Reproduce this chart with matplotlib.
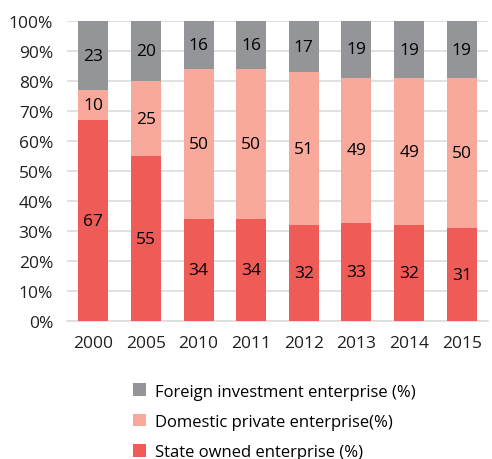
import numpy as np
import matplotlib.pyplot as plt
import matplotlib

matplotlib.rc("font", family=["Open Sans", "DejaVu Sans"])

# data
years = ["2000", "2005", "2010", "2011", "2012", "2013", "2014", "2015"]
state = [67, 55, 34, 34, 32, 33, 32, 31]
domestic = [10, 25, 50, 50, 51, 49, 49, 50]
foreign = [23, 20, 16, 16, 17, 19, 19, 19]

c_state = "#EF5B56"
c_dom = "#F8A99C"
c_for = "#939598"

st = np.array(state, dtype=float)
do = np.array(domestic, dtype=float)
fo = np.array(foreign, dtype=float)
tot = st + do + fo
st_p = st / tot * 100
do_p = do / tot * 100
fo_p = fo / tot * 100

x = np.arange(len(years))
w = 0.57

fig = plt.figure(figsize=(4.92, 4.6), dpi=100)
ax = fig.add_axes([0.136, 0.30, 0.856, 0.652])

b1 = ax.bar(x, st_p, w, color=c_state, label="State owned enterprise (%)", zorder=3)
b2 = ax.bar(x, do_p, w, bottom=st_p, color=c_dom, label="Domestic private enterprise(%)", zorder=3)
b3 = ax.bar(x, fo_p, w, bottom=st_p + do_p, color=c_for, label="Foreign investment enterprise (%)", zorder=3)

# labels in the middle of each segment
fs = 12.5
for i in range(len(years)):
    ax.text(x[i], st_p[i] / 2, str(state[i]), ha="center", va="center", fontsize=fs, zorder=4)
    ax.text(x[i], st_p[i] + do_p[i] / 2, str(domestic[i]), ha="center", va="center", fontsize=fs, zorder=4)
    ax.text(x[i], st_p[i] + do_p[i] + fo_p[i] / 2, str(foreign[i]), ha="center", va="center", fontsize=fs, zorder=4)

ax.set_xlim(-0.5, 7.5)
ax.set_ylim(0, 100)
ax.set_yticks(np.arange(0, 101, 10))
ax.set_yticklabels([f"{v}%" for v in range(0, 101, 10)])
ax.set_xticks(x)
ax.set_xticklabels(years)
ax.tick_params(axis="both", length=0, labelsize=fs, colors="#231f20")
ax.tick_params(axis="x", pad=10)
ax.tick_params(axis="y", pad=10)
ax.yaxis.grid(True, color="#dcdcdc", linewidth=1.2, zorder=0)
for s in ["top", "right", "left"]:
    ax.spines[s].set_visible(False)
ax.spines["bottom"].set_color("#dcdcdc")
ax.spines["bottom"].set_linewidth(1.2)

handles = [b3, b2, b1]
fig.legend(handles, [h.get_label() for h in handles], loc="upper left",
           bbox_to_anchor=(0.24, 0.197), frameon=False, fontsize=12,
           handlelength=0.8, handleheight=0.8, handletextpad=0.5, labelspacing=0.85)

fig.savefig("out.png", dpi=100)
